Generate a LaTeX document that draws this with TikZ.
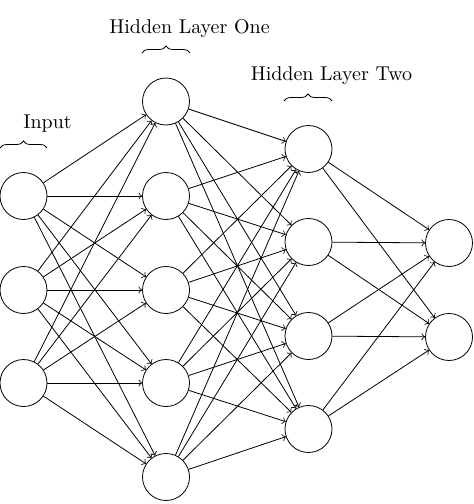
\documentclass[tikz,border=0pt]{standalone}
\usetikzlibrary{decorations.pathreplacing}
\begin{document}
\begin{tikzpicture}[x=0.5pt,y=-0.5pt,
  neuron/.style={circle,draw,minimum size=23.5pt,inner sep=0pt},
  link/.style={->,shorten >=0pt},
  layerbrace/.style={decorate,decoration={brace,amplitude=3.5pt}},
  layerlabel/.style={inner sep=0pt}]
\useasboundingbox (0,0) rectangle (473,504);
% input layer
\foreach \i/\y in {1/196,2/290,3/383}
  \node[neuron] (I\i) at (23.5,\y) {};
% first hidden layer
\foreach \i/\y in {1/101.5,2/196,3/290,4/383,5/477}
  \node[neuron] (A\i) at (166,\y) {};
% second hidden layer
\foreach \i/\y in {1/149,2/242,3/336,4/429}
  \node[neuron] (B\i) at (308.5,\y) {};
% output layer
\foreach \i/\y in {1/243,2/337}
  \node[neuron] (O\i) at (449,\y) {};
% connections
\foreach \i in {1,...,3}
  \foreach \j in {1,...,5}
    \draw[link] (I\i) -- (A\j);
\foreach \i in {1,...,5}
  \foreach \j in {1,...,4}
    \draw[link] (A\i) -- (B\j);
\foreach \i in {1,...,4}
  \foreach \j in {1,...,2}
    \draw[link] (B\i) -- (O\j);
% braces and layer titles
\coordinate (ibL) at (0,148);
\coordinate (ibR) at (47,148);
\draw[layerbrace] (ibL) -- (ibR);
\node[layerlabel] (il) at (47.5,124) {Input};
\coordinate (abL) at (142,53);
\coordinate (abR) at (190,53);
\draw[layerbrace] (abL) -- (abR);
\node[layerlabel] (al) at (189.5,28) {Hidden Layer One};
\coordinate (bbL) at (284,101);
\coordinate (bbR) at (332,101);
\draw[layerbrace] (bbL) -- (bbR);
\node[layerlabel] (bl) at (331.5,76) {Hidden Layer Two};
\end{tikzpicture}
\end{document}
